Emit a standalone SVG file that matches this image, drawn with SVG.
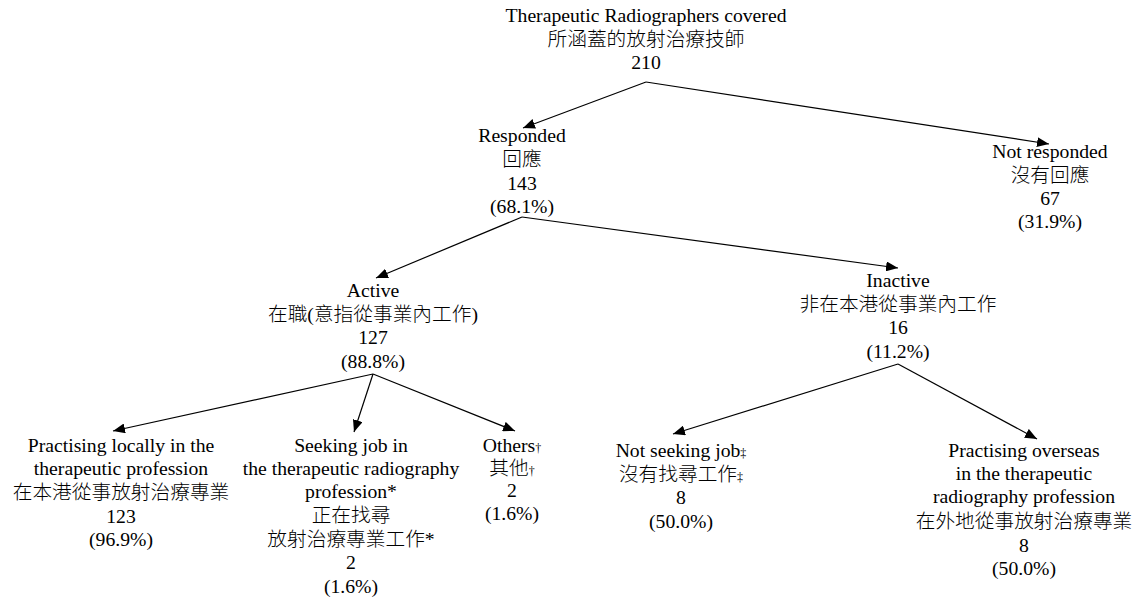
<svg xmlns="http://www.w3.org/2000/svg" width="1139" height="600" viewBox="0 0 1139 600">
<style>
text{font-family:"Liberation Serif","Noto Sans CJK TC",serif;font-size:19.7px;fill:#000;text-anchor:middle}
.cjk{font-weight:300}
.sm{font-size:12px}
.edge{stroke:#000;stroke-width:1.2;fill:none;marker-end:url(#ah)}
</style>
<defs>
<marker id="ah" markerUnits="userSpaceOnUse" markerWidth="12" markerHeight="10" refX="12" refY="5" orient="auto">
<path d="M0,0 L12,5 L0,10 z" fill="#000"/>
</marker>
</defs>
<rect width="1139" height="600" fill="#fff"/>
<g id="connectors">
<line class="edge" x1="646" y1="82" x2="523" y2="128"/>
<line class="edge" x1="646" y1="82" x2="1049" y2="144"/>
<line class="edge" x1="522" y1="217" x2="376" y2="278"/>
<line class="edge" x1="522" y1="217" x2="898" y2="268"/>
<line class="edge" x1="373" y1="374" x2="113" y2="431"/>
<line class="edge" x1="373" y1="374" x2="354" y2="432"/>
<line class="edge" x1="373" y1="374" x2="515" y2="431"/>
<line class="edge" x1="898" y1="364" x2="673" y2="434"/>
<line class="edge" x1="898" y1="364" x2="1037" y2="439"/>
</g>
<g id="root">
<text x="646" y="22">Therapeutic Radiographers covered</text>
<text class="cjk" x="646" y="46">所涵蓋的放射治療技師</text>
<text x="646" y="69">210</text>
</g>
<g id="responded">
<text x="522" y="142">Responded</text>
<text class="cjk" x="522" y="166">回應</text>
<text x="522" y="190">143</text>
<text x="522" y="213">(68.1%)</text>
</g>
<g id="not-responded">
<text x="1050" y="158">Not responded</text>
<text class="cjk" x="1050" y="182">沒有回應</text>
<text x="1050" y="205">67</text>
<text x="1050" y="228">(31.9%)</text>
</g>
<g id="active">
<text x="373" y="297">Active</text>
<text class="cjk" x="373" y="321">在職(意指從事業內工作)</text>
<text x="373" y="344">127</text>
<text x="373" y="368">(88.8%)</text>
</g>
<g id="inactive">
<text x="898" y="287">Inactive</text>
<text class="cjk" x="898" y="311">非在本港從事業內工作</text>
<text x="898" y="334">16</text>
<text x="898" y="358">(11.2%)</text>
</g>
<g id="practising-locally">
<text x="121" y="452">Practising locally in the</text>
<text x="121" y="475">therapeutic profession</text>
<text class="cjk" x="121" y="499">在本港從事放射治療專業</text>
<text x="121" y="523">123</text>
<text x="121" y="546">(96.9%)</text>
</g>
<g id="seeking-job">
<text x="351" y="452">Seeking job in</text>
<text x="351" y="475">the therapeutic radiography</text>
<text x="351" y="498">profession*</text>
<text class="cjk" x="351" y="522">正在找尋</text>
<text class="cjk" x="351" y="546">放射治療專業工作*</text>
<text x="351" y="569">2</text>
<text x="351" y="593">(1.6%)</text>
</g>
<g id="others">
<text x="512" y="452">Others<tspan class="sm">†</tspan></text>
<text class="cjk" x="512" y="475">其他<tspan class="sm">†</tspan></text>
<text x="512" y="497">2</text>
<text x="512" y="520">(1.6%)</text>
</g>
<g id="not-seeking">
<text x="681" y="457">Not seeking job<tspan class="sm">‡</tspan></text>
<text class="cjk" x="681" y="481">沒有找尋工作<tspan class="sm">‡</tspan></text>
<text x="681" y="504">8</text>
<text x="681" y="528">(50.0%)</text>
</g>
<g id="practising-overseas">
<text x="1024" y="457">Practising overseas</text>
<text x="1024" y="480">in the therapeutic</text>
<text x="1024" y="503">radiography profession</text>
<text class="cjk" x="1024" y="528">在外地從事放射治療專業</text>
<text x="1024" y="552">8</text>
<text x="1024" y="575">(50.0%)</text>
</g>
</svg>
